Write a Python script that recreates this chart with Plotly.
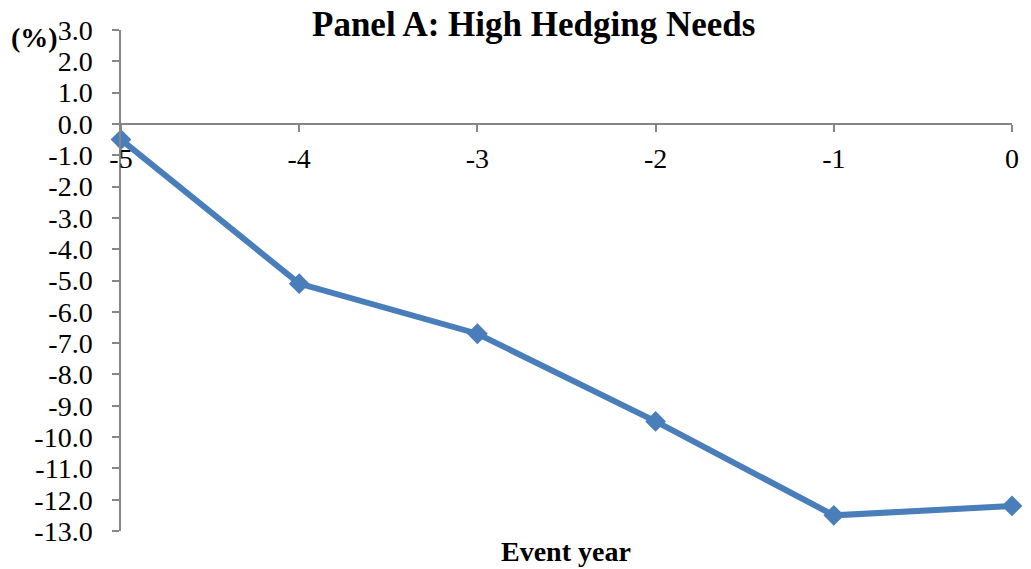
import plotly.graph_objects as go

# Event-year series, Panel A
event_years = [-5, -4, -3, -2, -1, 0]
x_tick_labels = ["-5", "-4", "-3", "-2", "-1", "0"]
values = [-0.5, -5.1, -6.7, -9.5, -12.5, -12.2]

y_tick_values = [3, 2, 1, 0, -1, -2, -3, -4, -5, -6, -7, -8, -9, -10, -11, -12, -13]
y_tick_labels = ["3.0", "2.0", "1.0", "0.0", "-1.0", "-2.0", "-3.0", "-4.0", "-5.0",
                 "-6.0", "-7.0", "-8.0", "-9.0", "-10.0", "-11.0", "-12.0", "-13.0"]

FONT = "Liberation Serif"
AXIS_GRAY = "#868686"
LINE_BLUE = "#4A7EBB"

W, H = 1031, 569
L, R, T, B = 121, 13, 30, 38
plot_h = H - T - B


def paper_y(py):
    return (H - B - py) / plot_h


def paper_x(px):
    return (px - L) / (W - L - R)


fig = go.Figure()
fig.add_trace(go.Scatter(
    x=event_years, y=values, mode="lines+markers",
    line=dict(color=LINE_BLUE, width=6),
    marker=dict(symbol="diamond", size=16, color=LINE_BLUE),
    cliponaxis=False, showlegend=False,
))

y_min, y_max = -13, 3
fig.update_layout(
    width=W, height=H,
    margin=dict(l=L, r=R, t=T, b=B),
    paper_bgcolor="white", plot_bgcolor="white",
    font=dict(family=FONT, size=28, color="black"),
    xaxis=dict(
        range=[-5, 0], tickvals=event_years, ticktext=x_tick_labels,
        showgrid=False, zeroline=False, showline=True, linecolor=AXIS_GRAY, linewidth=1.5,
        ticks="outside", ticklen=7, tickwidth=1.5, tickcolor=AXIS_GRAY,
        anchor="free", position=(0 - y_min) / (y_max - y_min),
        tickfont=dict(family=FONT, size=28, color="black"), ticklabelstandoff=3,
    ),
    yaxis=dict(
        range=[y_min, y_max], tickvals=y_tick_values, ticktext=y_tick_labels,
        showgrid=False, zeroline=False, showline=True, linecolor=AXIS_GRAY, linewidth=1.5,
        ticks="outside", ticklen=7, tickwidth=1.5, tickcolor=AXIS_GRAY,
        tickfont=dict(family=FONT, size=28, color="black"), ticklabelstandoff=14,
    ),
    annotations=[
        dict(text="<b>Panel A: High Hedging Needs</b>", x=paper_x(536), y=paper_y(25),
             xref="paper", yref="paper", xanchor="center", yanchor="middle",
             showarrow=False, font=dict(family=FONT, size=35)),
        dict(text="<b>(%)</b>", x=paper_x(8), y=paper_y(38),
             xref="paper", yref="paper", xanchor="left", yanchor="middle",
             showarrow=False, font=dict(family=FONT, size=28)),
        dict(text="<b>Event year</b>", x=paper_x(569), y=paper_y(551),
             xref="paper", yref="paper", xanchor="center", yanchor="middle",
             showarrow=False, font=dict(family=FONT, size=28)),
    ],
)

fig.write_html("out.html")
